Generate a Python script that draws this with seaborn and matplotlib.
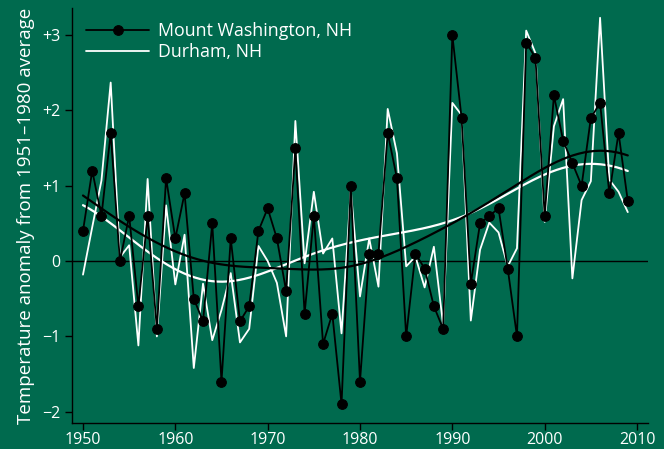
import numpy as np
import pandas as pd
import matplotlib
matplotlib.use("Agg")
import matplotlib.pyplot as plt
import seaborn as sns

years = list(range(1950, 2010))
mount_washington = [0.4, 1.2, 0.6, 1.7, 0.0, 0.6, -0.6, 0.6, -0.9, 1.1,
                    0.3, 0.9, -0.5, -0.8, 0.5, -1.6, 0.3, -0.8, -0.6, 0.4,
                    0.7, 0.3, -0.4, 1.5, -0.7, 0.6, -1.1, -0.7, -1.9, 1.0,
                    -1.6, 0.1, 0.1, 1.7, 1.1, -1.0, 0.1, -0.1, -0.6, -0.9,
                    3.0, 1.9, -0.3, 0.5, 0.6, 0.7, -0.1, -1.0, 2.9, 2.7,
                    0.6, 2.2, 1.6, 1.3, 1.0, 1.9, 2.1, 0.9, 1.7, 0.8]
durham = [-0.18, 0.45, 1.07, 2.37, 0.05, 0.21, -1.12, 1.09, -1.0, 0.74,
          -0.31, 0.35, -1.42, -0.3, -1.05, -0.65, -0.16, -1.08, -0.9, 0.2,
          0.0, -0.29, -1.0, 1.86, -0.03, 0.92, 0.1, 0.3, -0.96, 0.95,
          -0.47, 0.3, -0.34, 2.02, 1.43, -0.07, 0.06, -0.35, 0.19, -0.85,
          2.1, 1.94, -0.79, 0.15, 0.51, 0.38, -0.07, 0.17, 3.06, 2.76,
          0.52, 1.79, 2.15, -0.23, 0.81, 1.06, 3.23, 1.08, 0.92, 0.65]
xticks = [1950, 1960, 1970, 1980, 1990, 2000, 2010]
yticks = [-2, -1, 0, 1, 2, 3]
ytick_labels = ["\u22122", "\u22121", "0", "+1", "+2", "+3"]


def smooth(x, y, grid, sigma=6.0):
    # Gaussian-weighted local linear regression
    x = np.asarray(x, float)
    y = np.asarray(y, float)
    out = []
    for x0 in grid:
        w = np.exp(-0.5 * ((x - x0) / sigma) ** 2)
        X = np.vander(x - x0, 2, increasing=True)
        sw = np.sqrt(w)
        beta, *_ = np.linalg.lstsq(X * sw[:, None], y * sw, rcond=None)
        out.append(beta[0])
    return np.array(out)


bg = "#006A4E"
sns.set_theme(style="ticks")
plt.rcParams['font.family'] = ['Open Sans', 'DejaVu Sans']

df = pd.DataFrame({"year": years, "mw": mount_washington, "durham": durham})
grid = np.linspace(years[0], years[-1], 200)
sm = pd.DataFrame({"year": grid,
                   "mw": smooth(years, mount_washington, grid),
                   "durham": smooth(years, durham, grid)})

fig = plt.figure(figsize=(6.64, 4.49), dpi=100, facecolor=bg)
ax = fig.add_axes([72/664, 1 - 423/449, (648-72)/664, (423-8)/449])
ax.set_facecolor(bg)

ax.axhline(0, color="black", lw=1.0, zorder=1)

sns.lineplot(data=df, x="year", y="durham", ax=ax, color="white", lw=1.3,
             label="Durham, NH", zorder=2)
sns.lineplot(data=sm, x="year", y="durham", ax=ax, color="white", lw=1.6,
             zorder=3)
sns.lineplot(data=df, x="year", y="mw", ax=ax, color="black", lw=1.3,
             marker="o", markersize=7, markeredgecolor="black",
             label="Mount Washington, NH", zorder=4)
sns.lineplot(data=sm, x="year", y="mw", ax=ax, color="black", lw=1.6,
             zorder=3)

ax.set_xlim(1948.81, 2011.19)
ax.set_ylim(-2.15, 3.36)
ax.set_xticks(xticks)
ax.set_yticks(yticks)
ax.set_yticklabels(ytick_labels)
ax.set_xlabel("")
ax.set_ylabel("Temperature anomaly from 1951\u20131980 average", color="white",
              fontsize=13.5, labelpad=5)
for s in ["top", "right"]:
    ax.spines[s].set_visible(False)
for s in ["left", "bottom"]:
    ax.spines[s].set_color("black")
    ax.spines[s].set_linewidth(1.0)
ax.tick_params(colors="white", labelsize=11.5, length=5, width=1.0)
ax.tick_params(axis="both", color="black")
ax.tick_params(axis="x", pad=1.5)

handles, labels = ax.get_legend_handles_labels()
order = [labels.index("Mount Washington, NH"), labels.index("Durham, NH")]
leg = ax.legend([handles[i] for i in order], [labels[i] for i in order],
                loc="upper left", frameon=False, fontsize=12.8,
                handlelength=3.5, handletextpad=0.5,
                bbox_to_anchor=(0.0035, 0.996),
                labelcolor="white", borderaxespad=0.3, labelspacing=0.15)

fig.savefig("out.png", dpi=100, facecolor=bg)
